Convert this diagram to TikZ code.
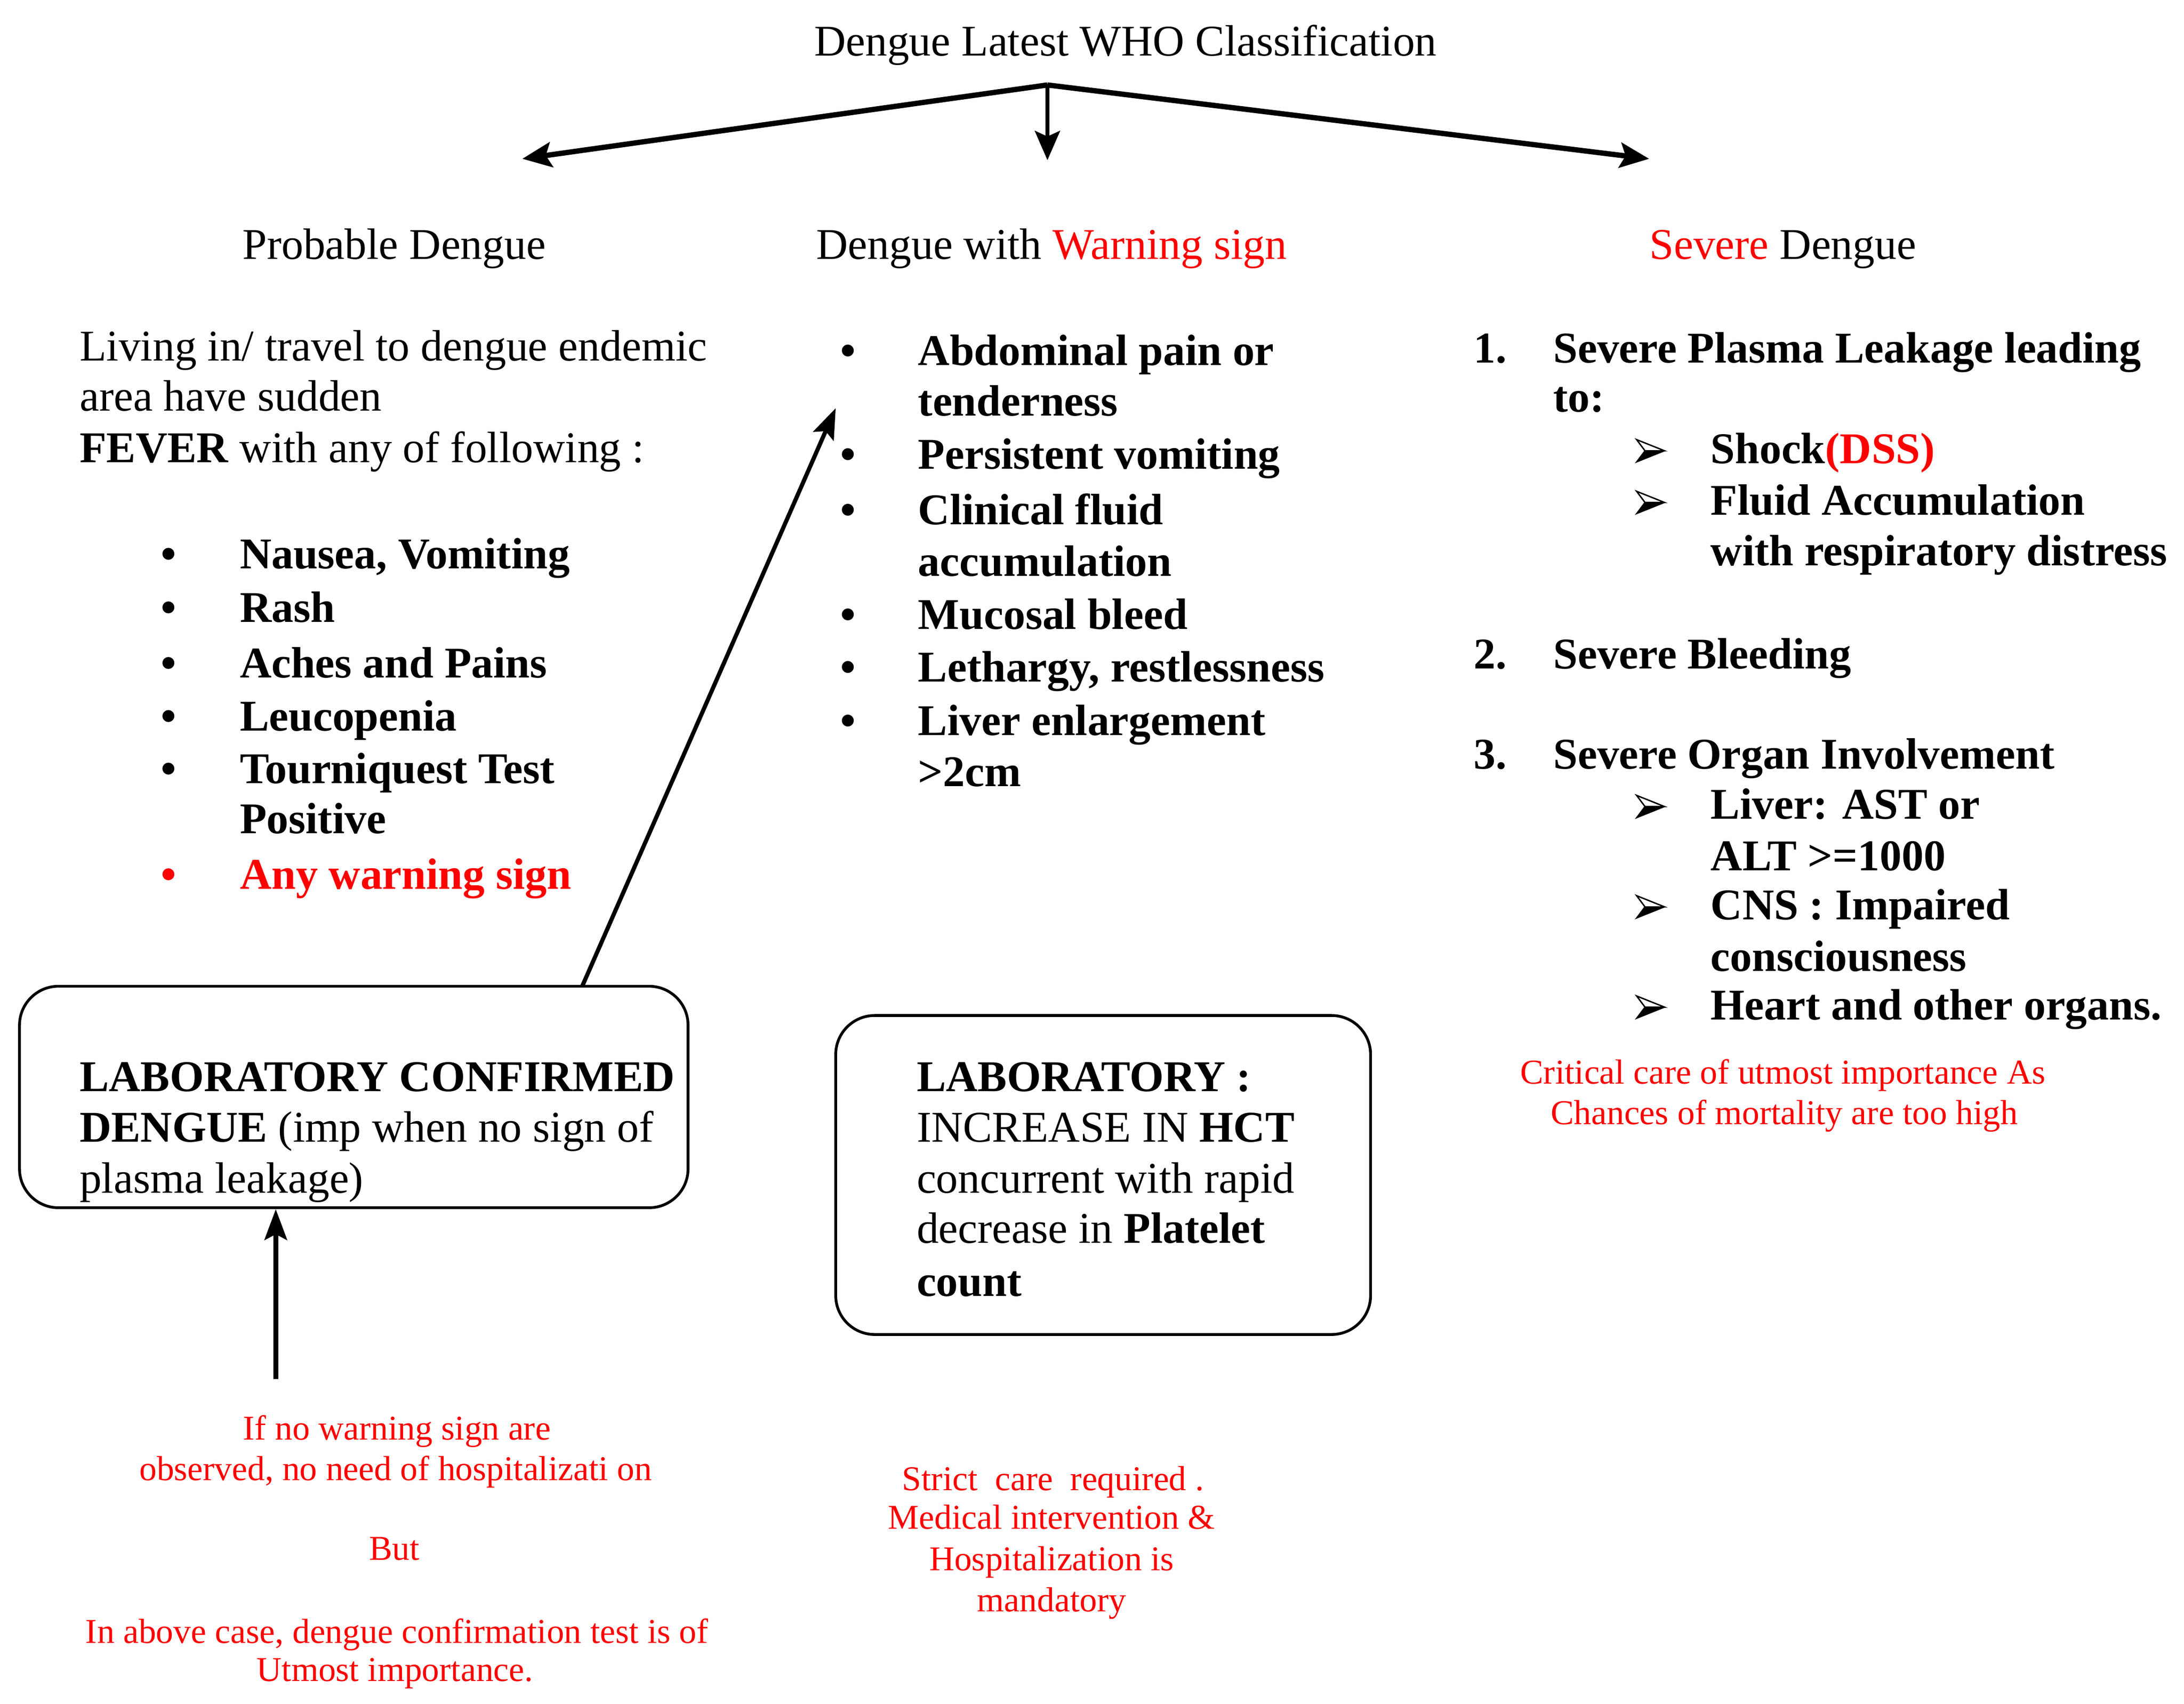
\documentclass[tikz,border=0pt]{standalone}
\usepackage{fontspec}
\setmainfont{Liberation Serif}
\usetikzlibrary{arrows.meta}
\tikzset{
  txt/.style={anchor=base west, inner sep=0pt, font=\fontsize{31.5}{36}\selectfont},
  btxt/.style={txt, font=\fontsize{31.5}{36}\selectfont\bfseries},
  ctxt/.style={anchor=base, inner sep=0pt, font=\fontsize{31.5}{36}\selectfont},
  rtxt/.style={anchor=base, inner sep=0pt, text=red, font=\fontsize{25}{29}\selectfont},
  bul/.style={anchor=base, inner sep=0pt, font=\fontsize{31.5}{36}\selectfont\bfseries},
  lbox/.style={draw, line width=2pt, rounded corners=28pt, inner sep=0pt},
  toparr/.style={-{Stealth[length=21pt,width=18pt,inset=4pt]}, line width=3.8pt},
  arr/.style={-{Stealth[length=22pt,width=16pt,inset=4pt]}, line width=3pt},
  abul/.pic={
    \draw[line width=0.9pt, fill=white] (-10,-8) -- (10,0) -- (-4,0) -- cycle;
    \fill (-4,0) -- (10,0) -- (-10,8) -- cycle;
    \draw[line width=0.9pt, line join=miter] (-10,-8) -- (10,0) -- (-10,8) -- (-4,0) -- cycle;
  }
}
\begin{document}
\begin{tikzpicture}[x=1pt,y=-1pt]
\useasboundingbox (0,0) rectangle (1568,1223);

% title and top arrows
\node[ctxt] (title) at (808,40) {Dengue Latest WHO Classification};
\coordinate (apex) at (752,61);
\coordinate (tipL) at (375,114);
\coordinate (tipM) at (752,115);
\coordinate (tipR) at (1184,114);
\draw[toparr] (apex) -- (tipL);
\draw[toparr] (apex) -- (tipR);
\draw[toparr, line width=3pt] (apex) -- (tipM);

% headings
\node[ctxt] (h1) at (283,186) {Probable Dengue};
\node[ctxt] (h2) at (755,186) {Dengue with \textcolor{red}{Warning sign}};
\node[ctxt] (h3) at (1280,186) {\textcolor{red}{Severe} Dengue};

% left column
\node[txt] (p1) at (57,259) {Living in/ travel to dengue endemic};
\node[txt] (p2) at (57,295) {area have sudden};
\node[txt] (p3) at (57,332) {\textbf{FEVER} with any of following :};
\node[bul] (lb1) at (121,408) {•};   \node[btxt] (li1) at (172,408) {Nausea, Vomiting};
\node[bul] (lb2) at (121,446.5) {•}; \node[btxt] (li2) at (172,446.5) {Rash};
\node[bul] (lb3) at (121,486.7) {•}; \node[btxt] (li3) at (172,486.7) {Aches and Pains};
\node[bul] (lb4) at (121,524.8) {•}; \node[btxt] (li4) at (172,524.8) {Leucopenia};
\node[bul] (lb5) at (121,562.5) {•}; \node[btxt] (li5) at (172,562.5) {Tourniquest Test};
\node[btxt] (li5b) at (172,598.5) {Positive};
\node[bul, text=red] (lb6) at (121,638.4) {•}; \node[btxt, text=red] (li6) at (172,638.4) {Any warning sign};

% middle column
\node[bul] (mb1) at (609,262.4) {•}; \node[btxt] (mi1) at (659,262.4) {Abdominal pain or};
\node[btxt] (mi1b) at (659,298.4) {tenderness};
\node[bul] (mb2) at (609,336.8) {•}; \node[btxt] (mi2) at (659,336.8) {Persistent vomiting};
\node[bul] (mb3) at (609,376.6) {•}; \node[btxt] (mi3) at (659,376.6) {Clinical fluid};
\node[btxt] (mi3b) at (659,413.7) {accumulation};
\node[bul] (mb4) at (609,451.5) {•}; \node[btxt] (mi4) at (659,451.5) {Mucosal bleed};
\node[bul] (mb5) at (609,489.3) {•}; \node[btxt] (mi5) at (659,489.3) {Lethargy, restlessness};
\node[bul] (mb6) at (609,528) {•};   \node[btxt] (mi6) at (659,528) {Liver enlargement};
\node[btxt] (mi6b) at (659,564.5) {>2cm};

% right column
\node[btxt] (rn1) at (1058,260.6) {1.}; \node[btxt] (ri1) at (1115,260.6) {Severe Plasma Leakage leading};
\node[btxt] (ri1b) at (1115,295.6) {to:};
\pic at (1185,323.6) {abul}; \node[btxt] (rs1) at (1228,332.6) {Shock\textcolor{red}{(DSS)}};
\pic at (1185,360.7) {abul}; \node[btxt] (rs2) at (1228,369.7) {Fluid Accumulation};
\node[btxt] (rs2b) at (1228,405.9) {with respiratory distress};
\node[btxt] (rn2) at (1058,480) {2.}; \node[btxt] (ri2) at (1115,480) {Severe Bleeding};
\node[btxt] (rn3) at (1058,551.8) {3.}; \node[btxt] (ri3) at (1115,551.8) {Severe Organ Involvement};
\pic at (1185,579) {abul}; \node[btxt] (rs3) at (1228,588) {Liver: AST or};
\node[btxt] (rs3b) at (1228,625) {ALT >=1000};
\pic at (1185,651) {abul}; \node[btxt] (rs4) at (1228,660) {CNS : Impaired};
\node[btxt] (rs4b) at (1228,697) {consciousness};
\pic at (1185,723) {abul}; \node[btxt] (rs5) at (1228,732) {Heart and other organs.};
\node[rtxt] (rc1) at (1280,778) {Critical care of utmost importance As};
\node[rtxt] (rc2) at (1281,807) {Chances of mortality are too high};

% boxes
\node[lbox, minimum width=480pt, minimum height=159pt] (box1) at (254,787.5) {};
\node[txt] (b1a) at (57,783.6) {\textbf{LABORATORY CONFIRMED}};
\node[txt] (b1b) at (57,819.6) {\textbf{DENGUE} (imp when no sign of};
\node[txt] (b1c) at (57,856.6) {plasma leakage)};

\node[lbox, minimum width=384pt, minimum height=229pt] (box2) at (792,843.5) {};
\node[txt] (b2a) at (658,783.6) {\textbf{LABORATORY :}};
\node[txt] (b2b) at (658,819.6) {INCREASE IN \textbf{HCT}};
\node[txt] (b2c) at (658,856.6) {concurrent with rapid};
\node[txt] (b2d) at (658,892.3) {decrease in \textbf{Platelet}};
\node[txt] (b2e) at (658,930.6) {\textbf{count}};

% connectors
\coordinate (b1top) at (418,708);
\coordinate (wtip) at (600,293);
\draw[arr] (b1top) -- (wtip);
\coordinate (b1src) at (198,990);
\draw[arr, line width=3.8pt] (b1src) -- (b1src |- box1.south);

% bottom red notes
\node[rtxt] (n1) at (285,1033.5) {If no warning sign are};
\node[rtxt] (n2) at (284,1062.6) {observed, no need of hospitalizati on};
\node[rtxt] (n3) at (283,1120) {But};
\node[rtxt] (n4) at (285,1179.5) {In above case, dengue confirmation test is of};
\node[rtxt] (n5) at (283.5,1207) {Utmost importance.};

\node[rtxt] (m1) at (756,1070) {Strict \ care \ required .};
\node[rtxt] (m2) at (755,1097.6) {Medical intervention \&};
\node[rtxt] (m3) at (755,1127.5) {Hospitalization is};
\node[rtxt] (m4) at (755,1157) {mandatory};
\end{tikzpicture}
\end{document}
